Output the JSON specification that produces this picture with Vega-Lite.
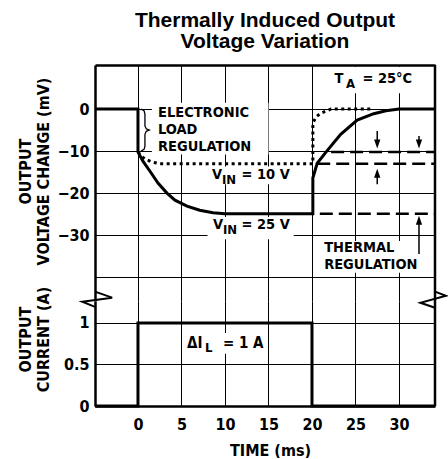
{
  "$schema": "https://vega.github.io/schema/vega-lite/v6.json",
  "padding": {"left": 17, "top": 9, "right": 0, "bottom": 0},
  "background": "white",
  "bounds": "flush",
  "spacing": 0,
  "config": {
    "view": {"stroke": null},
    "axis": {
      "labelFont": "Liberation Sans Narrow, DejaVu Sans Condensed, Arial Narrow, DejaVu Sans, sans-serif",
      "labelFontWeight": "bold", "labelFontSize": 16, "labelColor": "black",
      "titleFont": "Liberation Sans Narrow, DejaVu Sans Condensed, Arial Narrow, DejaVu Sans, sans-serif",
      "titleFontWeight": "bold", "titleFontSize": 16, "titleColor": "black",
      "domainColor": "black", "domainWidth": 2.5,
      "gridColor": "black", "gridWidth": 1, "gridOpacity": 1,
      "ticks": false
    },
    "text": {"font": "Liberation Sans Narrow, DejaVu Sans Condensed, Arial Narrow, DejaVu Sans, sans-serif", "fontWeight": "bold", "color": "black"}
  },
  "datasets": {
    "curves": [
      {"series": "25V", "i": 1, "t": -4.94, "v": 0},
      {"series": "25V", "i": 2, "t": 0, "v": 0},
      {"series": "25V", "i": 3, "t": 0, "v": -10.2},
      {"series": "25V", "i": 4, "t": 0.57, "v": -12.4},
      {"series": "25V", "i": 5, "t": 1.38, "v": -14.8},
      {"series": "25V", "i": 6, "t": 2.3, "v": -17.6},
      {"series": "25V", "i": 7, "t": 3.33, "v": -20},
      {"series": "25V", "i": 8, "t": 4.25, "v": -21.7},
      {"series": "25V", "i": 9, "t": 5.63, "v": -23.1},
      {"series": "25V", "i": 10, "t": 7.1, "v": -24.1},
      {"series": "25V", "i": 11, "t": 8.62, "v": -24.7},
      {"series": "25V", "i": 12, "t": 10, "v": -24.9},
      {"series": "25V", "i": 13, "t": 20.1, "v": -24.9},
      {"series": "25V", "i": 14, "t": 20.1, "v": -16.4},
      {"series": "25V", "i": 15, "t": 20.6, "v": -12.9},
      {"series": "25V", "i": 16, "t": 21.7, "v": -10},
      {"series": "25V", "i": 17, "t": 23.3, "v": -6},
      {"series": "25V", "i": 18, "t": 25.2, "v": -2.6},
      {"series": "25V", "i": 19, "t": 27.1, "v": -1.1},
      {"series": "25V", "i": 20, "t": 28.5, "v": -0.4},
      {"series": "25V", "i": 21, "t": 30, "v": 0},
      {"series": "25V", "i": 22, "t": 34.14, "v": 0},
      {"series": "10V", "i": 1, "t": 0, "v": -10.2},
      {"series": "10V", "i": 2, "t": 0.4, "v": -11.2},
      {"series": "10V", "i": 3, "t": 0.8, "v": -11.9},
      {"series": "10V", "i": 4, "t": 1.6, "v": -12.6},
      {"series": "10V", "i": 5, "t": 2.5, "v": -13},
      {"series": "10V", "i": 6, "t": 20.1, "v": -13},
      {"series": "10V", "i": 7, "t": 20.1, "v": -3.3},
      {"series": "10V", "i": 8, "t": 20.5, "v": -1.8},
      {"series": "10V", "i": 9, "t": 21, "v": -1},
      {"series": "10V", "i": 10, "t": 22.2, "v": 0},
      {"series": "10V", "i": 11, "t": 27, "v": 0}
    ],
    "dashes": [
      {"level": "load", "t": 22.2, "v": -10.2},
      {"level": "load", "t": 34.14, "v": -10.2},
      {"level": "10V", "t": 20.6, "v": -13},
      {"level": "10V", "t": 34.14, "v": -13},
      {"level": "25V", "t": 20.9, "v": -24.9},
      {"level": "25V", "t": 34.14, "v": -24.9}
    ],
    "brace": [
      {"i": 1, "t": 0.35, "v": 0},
      {"i": 2, "t": 0.7, "v": -0.4},
      {"i": 3, "t": 0.8, "v": -1.2},
      {"i": 4, "t": 0.8, "v": -4.0},
      {"i": 5, "t": 0.95, "v": -4.7},
      {"i": 6, "t": 1.3, "v": -5.0},
      {"i": 7, "t": 0.95, "v": -5.3},
      {"i": 8, "t": 0.8, "v": -6.0},
      {"i": 9, "t": 0.8, "v": -8.8},
      {"i": 10, "t": 0.7, "v": -9.6},
      {"i": 11, "t": 0.35, "v": -10}
    ],
    "boxes": [
      {"t": 1.6, "t2": 15.0, "v": 1.5, "v2": -10.8},
      {"t": 8.0, "t2": 17.7, "v": -13.7, "v2": -17.9},
      {"t": 8.0, "t2": 17.9, "v": -25.7, "v2": -31.0},
      {"t": 22.1, "t2": 32.2, "v": 10.0, "v2": 3.8},
      {"t": 20.9, "t2": 33.5, "v": -31.4, "v2": -39.0}
    ],
    "shafts": [
      {"t": 27.5, "v": -5.2, "v2": -8.3},
      {"t": 27.5, "v": -17.9, "v2": -15.3},
      {"t": 32.3, "v": -6.4, "v2": -8.3},
      {"t": 32.3, "v": -34.5, "v2": -26.5}
    ],
    "heads": [
      {"t": 27.5, "v": -8.3, "dir": "down"},
      {"t": 27.5, "v": -15.3, "dir": "up"},
      {"t": 32.3, "v": -8.3, "dir": "down"},
      {"t": 32.3, "v": -26.5, "dir": "up"}
    ],
    "labels": [
      {"t": 2.3, "v": -0.9, "label": "ELECTRONIC"},
      {"t": 2.3, "v": -4.95, "label": "LOAD"},
      {"t": 2.3, "v": -9.0, "label": "REGULATION"},
      {"t": 8.5, "v": -15.6, "label": "V"},
      {"t": 11.9, "v": -15.6, "label": "= 10 V"},
      {"t": 8.62, "v": -27.6, "label": "V"},
      {"t": 11.9, "v": -27.6, "label": "= 25 V"},
      {"t": 22.6, "v": 7.1, "label": "T"},
      {"t": 25.8, "v": 7.1, "label": "= 25°C"},
      {"t": 21.4, "v": -33.1, "label": "THERMAL"},
      {"t": 21.4, "v": -37.2, "label": "REGULATION"}
    ],
    "subs": [
      {"t": 9.66, "v": -15.6, "label": "IN"},
      {"t": 9.76, "v": -27.6, "label": "IN"},
      {"t": 23.9, "v": 7.1, "label": "A"}
    ],
    "current": [
      {"i": 1, "t": -4.94, "a": 0},
      {"i": 2, "t": 0, "a": 0},
      {"i": 3, "t": 0, "a": 1},
      {"i": 4, "t": 20.0, "a": 1},
      {"i": 5, "t": 20.0, "a": 0},
      {"i": 6, "t": 34.14, "a": 0}
    ],
    "cboxes": [
      {"t": 5.2, "t2": 14.6, "a": 0.88, "a2": 0.63}
    ],
    "clabels": [
      {"t": 5.63, "a": 0.76, "label": "ΔI"},
      {"t": 9.77, "a": 0.76, "label": "= 1 A"}
    ],
    "csubs": [
      {"t": 7.7, "a": 0.76, "label": "L"}
    ],
    "breaks": [
      {"side": "left", "i": 1, "t": -4.94, "a": 1.378},
      {"side": "left", "i": 2, "t": -2.97, "a": 1.305},
      {"side": "left", "i": 3, "t": -6.4, "a": 1.256},
      {"side": "left", "i": 4, "t": -4.94, "a": 1.195},
      {"side": "right", "i": 1, "t": 34.14, "a": 1.378},
      {"side": "right", "i": 2, "t": 35.4, "a": 1.329},
      {"side": "right", "i": 3, "t": 32.46, "a": 1.244},
      {"side": "right", "i": 4, "t": 34.14, "a": 1.183}
    ]
  },
  "vconcat": [
    {
      "width": 340,
      "height": 236,
      "title": {
        "text": ["Thermally Induced Output", "Voltage Variation"],
        "font": "Liberation Sans, Arial, Helvetica, sans-serif",
        "fontSize": 21, "fontWeight": "bold", "lineHeight": 21,
        "color": "black", "anchor": "middle", "frame": "group", "offset": 12
      },
      "layer": [
        {
          "data": {"name": "boxes"},
          "mark": {"type": "rect", "color": "white", "opacity": 1},
          "encoding": {
            "x": {
              "field": "t", "type": "quantitative",
              "scale": {"domain": [-4.94, 34.14], "nice": false, "zero": false},
              "axis": {"orient": "top", "values": [0, 5, 10, 15, 20, 25, 30], "labels": false, "title": null, "grid": true, "domain": true}
            },
            "x2": {"field": "t2"},
            "y": {
              "field": "v", "type": "quantitative",
              "scale": {"domain": [-45.7, 10.5], "nice": false, "zero": false},
              "axis": {
                "values": [0, -10, -20, -30, -40],
                "labelExpr": "datum.value < -35 ? '' : datum.label",
                "grid": true, "domain": true, "labelPadding": 6,
                "title": ["OUTPUT", "VOLTAGE CHANGE (mV)"],
                "titleAngle": 270, "titleAlign": "center", "titleBaseline": "top",
                "titleX": -78, "titleY": 106, "titleLineHeight": 18
              }
            },
            "y2": {"field": "v2"}
          }
        },
        {
          "data": {"name": "curves"},
          "transform": [{"filter": "datum.series === '25V'"}],
          "mark": {"type": "line", "color": "black", "strokeWidth": 3, "strokeJoin": "miter", "clip": true},
          "encoding": {
            "x": {"field": "t", "type": "quantitative"},
            "y": {"field": "v", "type": "quantitative"},
            "order": {"field": "i", "type": "quantitative"}
          }
        },
        {
          "data": {"name": "curves"},
          "transform": [{"filter": "datum.series === '10V'"}],
          "mark": {"type": "line", "color": "black", "strokeWidth": 3, "strokeDash": [3, 3.5], "strokeCap": "butt"},
          "encoding": {
            "x": {"field": "t", "type": "quantitative"},
            "y": {"field": "v", "type": "quantitative"},
            "order": {"field": "i", "type": "quantitative"}
          }
        },
        {
          "data": {"name": "dashes"},
          "mark": {"type": "line", "color": "black", "strokeWidth": 2.5, "strokeDash": [13, 6], "strokeCap": "butt"},
          "encoding": {
            "x": {"field": "t", "type": "quantitative"},
            "y": {"field": "v", "type": "quantitative"},
            "detail": {"field": "level", "type": "nominal"}
          }
        },
        {
          "data": {"name": "brace"},
          "mark": {"type": "line", "color": "black", "strokeWidth": 1.3, "interpolate": "linear"},
          "encoding": {
            "x": {"field": "t", "type": "quantitative"},
            "y": {"field": "v", "type": "quantitative"},
            "order": {"field": "i", "type": "quantitative"}
          }
        },
        {
          "data": {"name": "shafts"},
          "mark": {"type": "rule", "color": "black", "strokeWidth": 1.5},
          "encoding": {
            "x": {"field": "t", "type": "quantitative"},
            "y": {"field": "v", "type": "quantitative"},
            "y2": {"field": "v2"}
          }
        },
        {
          "data": {"name": "heads"},
          "mark": {"type": "point", "filled": true, "color": "black", "opacity": 1, "size": 81},
          "encoding": {
            "x": {"field": "t", "type": "quantitative"},
            "y": {"field": "v", "type": "quantitative"},
            "shape": {
              "field": "dir", "type": "nominal", "legend": null,
              "scale": {"domain": ["down", "up"], "range": ["M-0.7,-1L0.7,-1L0,1Z", "M-0.7,1L0.7,1L0,-1Z"]}
            }
          }
        },
        {
          "data": {"name": "labels"},
          "mark": {"type": "text", "align": "left", "baseline": "middle", "fontSize": 14.5},
          "encoding": {
            "x": {"field": "t", "type": "quantitative"},
            "y": {"field": "v", "type": "quantitative"},
            "text": {"field": "label"}
          }
        },
        {
          "data": {"name": "subs"},
          "mark": {"type": "text", "align": "left", "baseline": "middle", "fontSize": 13, "dy": 5},
          "encoding": {
            "x": {"field": "t", "type": "quantitative"},
            "y": {"field": "v", "type": "quantitative"},
            "text": {"field": "label"}
          }
        },
        {
          "data": {"values": [{}]},
          "mark": {"type": "rule", "color": "black", "strokeWidth": 2.5},
          "encoding": {"x": {"datum": 34.14, "type": "quantitative"}}
        }
      ]
    },
    {
      "width": 340,
      "height": 105,
      "layer": [
        {
          "data": {"name": "cboxes"},
          "mark": {"type": "rect", "color": "white", "opacity": 1},
          "encoding": {
            "x": {
              "field": "t", "type": "quantitative",
              "scale": {"domain": [-4.94, 34.14], "nice": false, "zero": false},
              "axis": {"orient": "bottom", "values": [0, 5, 10, 15, 20, 25, 30], "grid": true, "domain": true, "labelPadding": 10, "title": "TIME (ms)", "titleX": 175, "titleY": 49, "titleBaseline": "alphabetic", "titleAlign": "center"}
            },
            "x2": {"field": "t2"},
            "y": {
              "field": "a", "type": "quantitative",
              "scale": {"domain": [0, 1.265], "nice": false, "zero": false},
              "axis": {
                "values": [0, 0.5, 1], "format": "~g",
                "grid": true, "domain": true, "labelPadding": 6,
                "title": ["OUTPUT", "CURRENT (A)"],
                "titleAngle": 270, "titleAlign": "center", "titleBaseline": "top",
                "titleX": -78, "titleY": 38, "titleLineHeight": 18
              }
            },
            "y2": {"field": "a2"}
          }
        },
        {
          "data": {"name": "current"},
          "mark": {"type": "line", "color": "black", "strokeWidth": 3, "strokeJoin": "miter"},
          "encoding": {
            "x": {"field": "t", "type": "quantitative"},
            "y": {"field": "a", "type": "quantitative"},
            "order": {"field": "i", "type": "quantitative"}
          }
        },
        {
          "data": {"name": "clabels"},
          "mark": {"type": "text", "align": "left", "baseline": "middle", "fontSize": 15},
          "encoding": {
            "x": {"field": "t", "type": "quantitative"},
            "y": {"field": "a", "type": "quantitative"},
            "text": {"field": "label"}
          }
        },
        {
          "data": {"name": "csubs"},
          "mark": {"type": "text", "align": "left", "baseline": "middle", "fontSize": 13, "dy": 5},
          "encoding": {
            "x": {"field": "t", "type": "quantitative"},
            "y": {"field": "a", "type": "quantitative"},
            "text": {"field": "label"}
          }
        },
        {
          "data": {"name": "breaks"},
          "mark": {"type": "line", "color": "black", "strokeWidth": 2, "clip": false},
          "encoding": {
            "x": {"field": "t", "type": "quantitative"},
            "y": {"field": "a", "type": "quantitative"},
            "detail": {"field": "side", "type": "nominal"},
            "order": {"field": "i", "type": "quantitative"}
          }
        },
        {
          "data": {"values": [{}]},
          "mark": {"type": "rule", "color": "black", "strokeWidth": 2.5},
          "encoding": {"x": {"datum": 34.14, "type": "quantitative"}}
        }
      ]
    }
  ]
}
